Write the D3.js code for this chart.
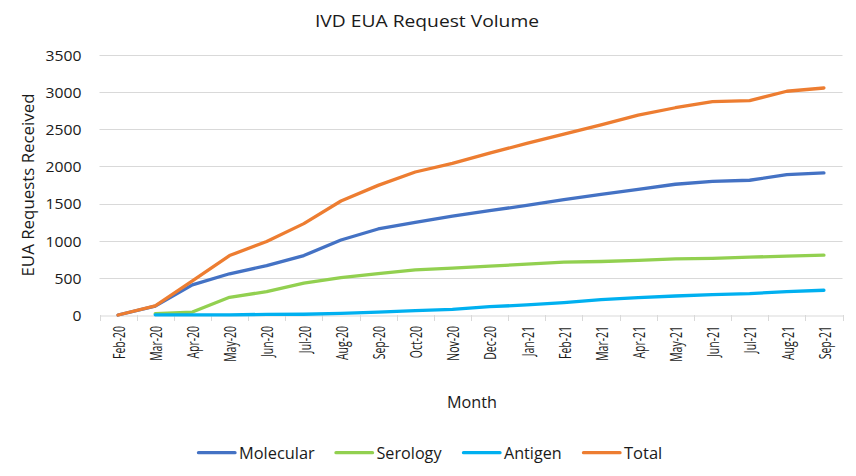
<!DOCTYPE html>
<html><head><meta charset="utf-8">
<script src="https://cdn.jsdelivr.net/npm/d3@7"></script>
<style>
html,body{margin:0;padding:0;background:#fff;}
svg text{font-family:"Open Sans",sans-serif;}
</style></head>
<body><svg id="c" width="856" height="476"></svg>
<script>
const months = ["Feb-20","Mar-20","Apr-20","May-20","Jun-20","Jul-20","Aug-20","Sep-20","Oct-20","Nov-20","Dec-20","Jan-21","Feb-21","Mar-21","Apr-21","May-21","Jun-21","Jul-21","Aug-21","Sep-21"];
const molecular = [0,120,405,555,665,800,1010,1158,1248,1330,1405,1475,1553,1625,1690,1760,1800,1814,1890,1913];
const serology  = [null,18,40,238,315,428,504,558,607,630,657,684,711,720,734,756,762,779,792,806];
const antigen   = [null,2,2,3,8,10,22,40,58,75,112,135,166,207,234,256,273,288,315,333];
const total     = [0,122,460,800,990,1230,1535,1745,1925,2040,2178,2310,2435,2560,2690,2790,2872,2885,3012,3056];
const yTicks = [0,500,1000,1500,2000,2500,3000,3500];
const seriesNames = ["Molecular","Serology","Antigen","Total"];
const seriesColors = ["#4472C4","#92D050","#00B0F0","#ED7D31"];
const seriesValues = [molecular, serology, antigen, total];

const svg = d3.select("#c");
const mLeft = 99.5, mRight = 842.5, mTop = 55, mBottom = 315;
const x = d3.scaleBand().domain(months).range([mLeft, mRight]).padding(0);
const y = d3.scaleLinear().domain([0,3500]).range([mBottom, mTop]);
const tc = "#1a1a1a";

function fit(sel, k) {
  sel.each(function(){
    const w = this.getComputedTextLength();
    d3.select(this).attr("textLength", w*k).attr("lengthAdjust","spacingAndGlyphs");
  });
}
function fitTo(sel, target) {
  sel.attr("textLength", target).attr("lengthAdjust","spacingAndGlyphs");
}

// title
fitTo(svg.append("text").attr("x", 427).attr("y", 26.6).attr("text-anchor","middle")
  .attr("font-size", 16.4).attr("fill", tc).text("IVD EUA Request Volume"), 224);

// gridlines
svg.append("g").selectAll("line").data(yTicks.filter(d=>d>0)).join("line")
  .attr("x1", mLeft).attr("x2", mRight)
  .attr("y1", d=>Math.round(y(d))+0.5).attr("y2", d=>Math.round(y(d))+0.5)
  .attr("stroke", "#D9D9D9").attr("stroke-width", 1);

// y axis labels
const yAxis = d3.axisLeft(y).tickValues(yTicks).tickFormat(d3.format("d")).tickSize(0).tickPadding(0);
const gy = svg.append("g").attr("transform", `translate(81.5,0)`).call(yAxis);
gy.select(".domain").remove();
gy.selectAll("text").attr("font-size", 15).attr("fill", tc).attr("font-family", null).attr("dy","0.36em")
  .each(function(d){ d3.select(this).attr("textLength", 9*String(d).length).attr("lengthAdjust","spacingAndGlyphs"); });

// x axis
const xAxis = d3.axisBottom(x).tickSize(0).tickPadding(0);
const gx = svg.append("g").attr("transform", `translate(0,${Math.round(mBottom)+0.5})`).call(xAxis);
gx.select(".domain").attr("stroke","#D9D9D9");
const xl = gx.selectAll("text").attr("font-size", 16.8).attr("fill", tc).attr("font-family", null)
  .attr("transform", "rotate(-90)").attr("text-anchor","end")
  .attr("x", -10.5).attr("y", 6.8).attr("dy", 0);
const baseW = xl.filter((d,i)=>i===0).node().getComputedTextLength();
fit(xl, 33/baseW);
// tick marks at band boundaries
const bounds = months.map(m=>x(m)).concat([mRight]);
svg.append("g").selectAll("line").data(bounds).join("line")
  .attr("x1", d=>Math.round(d)+0.5).attr("x2", d=>Math.round(d)+0.5)
  .attr("y1", Math.round(mBottom)).attr("y2", Math.round(mBottom)+6)
  .attr("stroke","#D9D9D9");

// axis titles
fitTo(svg.append("text").attr("transform", "translate(33.5,185) rotate(-90)").attr("text-anchor","middle")
  .attr("font-size", 16.4).attr("fill", tc).text("EUA Requests Received"), 183);
fitTo(svg.append("text").attr("x", 472).attr("y", 407.5).attr("text-anchor","middle")
  .attr("font-size", 16.4).attr("fill", tc).text("Month"), 50);

// lines
const line = d3.line().defined(d=>d.v!=null).x(d=>x(d.m)+x.bandwidth()/2).y(d=>y(d.v));
seriesValues.forEach((vals,i)=>{
  svg.append("path").datum(months.map((m,j)=>({m, v: vals[j]})))
    .attr("d", line).attr("fill","none").attr("stroke", seriesColors[i])
    .attr("stroke-width", 3.3).attr("stroke-linejoin","round").attr("stroke-linecap","round");
});

// legend
const legX = [198.5, 336, 463.5, 583.5];
const legW = [75.7, 65, 57.7, 38.3];
const lg = svg.append("g");
seriesNames.forEach((n,i)=>{
  lg.append("line").attr("x1", legX[i]).attr("x2", legX[i]+36.5).attr("y1", 452.7).attr("y2", 452.7)
    .attr("stroke", seriesColors[i]).attr("stroke-width", 3.3).attr("stroke-linecap","round");
  fitTo(lg.append("text").attr("x", legX[i]+40.5).attr("y", 459)
    .attr("font-size", 17.2).attr("fill", tc).text(n), legW[i]);
});
</script></body></html>
